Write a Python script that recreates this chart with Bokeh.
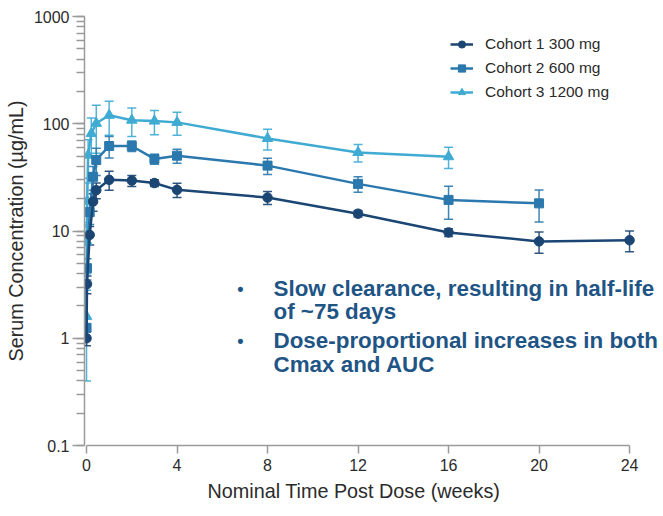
from bokeh.plotting import figure
from bokeh.models import (ColumnDataSource, Whisker, TeeHead, Legend, LegendItem,
                          LogTicker, FixedTicker, CustomJSTickFormatter, Label, Title)
from bokeh.embed import file_html
from bokeh.resources import INLINE

# Mean serum concentration (µg/mL) with SD, by nominal week post dose
weeks_c1 = [0.0, 0.02, 0.14, 0.29, 0.43, 1, 2, 3, 4, 8, 12, 16, 20, 24]
conc_c1 = [1.0, 3.2, 9.2, 18.8, 24.0, 30.0, 29.5, 28.0, 24.2, 20.5, 14.5, 9.7, 8.0, 8.2]
sd_c1 = [0.15, 0.6, 1.8, 3.5, 4.0, 6.0, 3.5, 2.0, 3.7, 2.8, 1.0, 0.8, 1.8, 1.8]

weeks_c2 = [0.0, 0.02, 0.14, 0.29, 0.43, 1, 2, 3, 4, 8, 12, 16, 20]
conc_c2 = [1.25, 4.5, 15.0, 32.0, 46.0, 62.0, 62.0, 47.0, 50.4, 40.7, 27.5, 19.5, 18.1]
sd_c2 = [0.3, 1.0, 3.5, 8.0, 13.0, 14.0, 7.0, 5.0, 7.5, 7.0, 4.5, 6.6, 6.0]

weeks_c3 = [0.0, 0.01, 0.03, 0.07, 0.21, 0.43, 1, 2, 3, 4, 8, 12, 16]
conc_c3 = [1.6, 8.0, 19.0, 51.0, 81.0, 101.0, 120.0, 108.0, 106.0, 103.0, 73.0, 54.0, 49.3]
sd_c3 = [1.2, 4.0, 9.0, 20.0, 32.0, 48.0, 42.0, 32.0, 27.0, 25.0, 16.0, 10.0, 11.0]

cohort_labels = ["Cohort 1 300 mg", "Cohort 2 600 mg", "Cohort 3 1200 mg"]
x_ticks = [0, 4, 8, 12, 16, 20, 24]
x_title = "Nominal Time Post Dose (weeks)"
y_title = "Serum Concentration (µg/mL)"

bullets = [
    ["Slow clearance, resulting in half-life", "of ~75 days"],
    ["Dose-proportional increases in both", "Cmax and AUC"],
]

FONT = "Liberation Sans"
AXIS_GREY = "#9a9a9a"
INK = "#2b2b2b"
colors = ["#1b4674", "#2a78ad", "#3fabd3"]
markers = ["circle", "square", "triangle"]
sizes = [9.5, 9, 10.5]

p = figure(width=663, height=516, x_range=(-0.09, 25.5), y_range=(0.1, 1000),
           y_axis_type="log", output_backend="svg", toolbar_location=None,
           min_border_left=84, min_border_right=0, min_border_top=16,
           min_border_bottom=71)
p.grid.visible = False
p.outline_line_color = None
p.background_fill_color = "white"
p.border_fill_color = "white"

# y axis: log decades, minor ticks at 2..9
p.yaxis.ticker = LogTicker(num_minor_ticks=10, desired_num_ticks=5)
p.yaxis.formatter = CustomJSTickFormatter(
    code="return tick < 1 ? tick.toFixed(1) : tick.toFixed(0);")
p.yaxis.axis_label = y_title
p.yaxis.major_tick_out = 12
p.yaxis.major_tick_in = 0
p.yaxis.minor_tick_out = 8
p.yaxis.minor_tick_in = 0
p.yaxis.major_label_standoff = 3
p.yaxis.axis_label_standoff = 4

# x axis spans weeks 0-24 only; the frame runs further right for the notes
p.xaxis.ticker = FixedTicker(ticks=x_ticks, minor_ticks=[])
p.xaxis.bounds = (0, 24)
p.xaxis.major_tick_out = 8
p.xaxis.major_tick_in = 0
p.xaxis.major_label_standoff = 5

for ax in (p.xaxis, p.yaxis):
    ax.axis_line_color = AXIS_GREY
    ax.axis_line_width = 1.5
    ax.major_tick_line_color = AXIS_GREY
    ax.major_tick_line_width = 1.5
    ax.minor_tick_line_color = AXIS_GREY
    ax.minor_tick_line_width = 1.5
    ax.major_label_text_font = FONT
    ax.major_label_text_font_size = "16px"
    ax.major_label_text_color = INK
    ax.axis_label_text_font = FONT
    ax.axis_label_text_font_size = "19.8px"
    ax.axis_label_text_font_style = "normal"
    ax.axis_label_text_color = INK

# x-axis title, centred under the 0-24 week span
p.add_layout(Title(text=x_title, align="left", offset=123, text_font=FONT,
                   text_font_size="19.8px", text_font_style="normal",
                   text_color=INK, standoff=9), "below")

series = [
    (weeks_c1, conc_c1, sd_c1),
    (weeks_c2, conc_c2, sd_c2),
    (weeks_c3, conc_c3, sd_c3),
]

items = []
for i in (2, 1, 0):
    wk, conc, sd = series[i]
    src = ColumnDataSource(dict(
        x=wk, y=conc,
        upper=[c + s for c, s in zip(conc, sd)],
        lower=[max(c - s, 0.11) for c, s in zip(conc, sd)],
    ))
    col = colors[i]
    w = Whisker(source=src, base="x", upper="upper", lower="lower",
                line_color=col, line_width=1.5, line_alpha=0.9,
                upper_head=TeeHead(size=9, line_color=col, line_width=1.5, line_alpha=0.9),
                lower_head=TeeHead(size=9, line_color=col, line_width=1.5, line_alpha=0.9))
    p.add_layout(w)
    ln = p.line("x", "y", source=src, line_color=col, line_width=2.5)
    sc = p.scatter("x", "y", source=src, marker=markers[i], size=sizes[i],
                   fill_color=col, line_color=col)
    items.append((i, LegendItem(label=cohort_labels[i], renderers=[ln, sc])))

items.sort(key=lambda t: t[0])
legend = Legend(items=[it for _, it in items], location=(366, 344),
                background_fill_alpha=0, border_line_color=None,
                label_text_font=FONT, label_text_font_size="15.5px",
                label_text_color=INK,
                glyph_width=23, glyph_height=18, label_height=18,
                spacing=6, label_standoff=12, padding=0, margin=0)
p.add_layout(legend)

# Key findings, as bullets inside the plot area
TEXT_BLUE = "#1f5585"
line_y = [157, 134, 105, 81]  # px above the frame bottom
k = 0
for lines in bullets:
    p.add_layout(Label(x=156, y=line_y[k], x_units="screen", y_units="screen",
                       text="•", text_font=FONT, text_font_size="18px",
                       text_font_style="bold", text_color=TEXT_BLUE,
                       text_align="center", text_baseline="middle"))
    for ln_text in lines:
        p.add_layout(Label(x=189, y=line_y[k], x_units="screen", y_units="screen",
                           text=ln_text, text_font=FONT, text_font_size="22.4px",
                           text_font_style="bold", text_color=TEXT_BLUE,
                           text_baseline="middle"))
        k += 1

open("out.html", "w").write(file_html(p, INLINE))
